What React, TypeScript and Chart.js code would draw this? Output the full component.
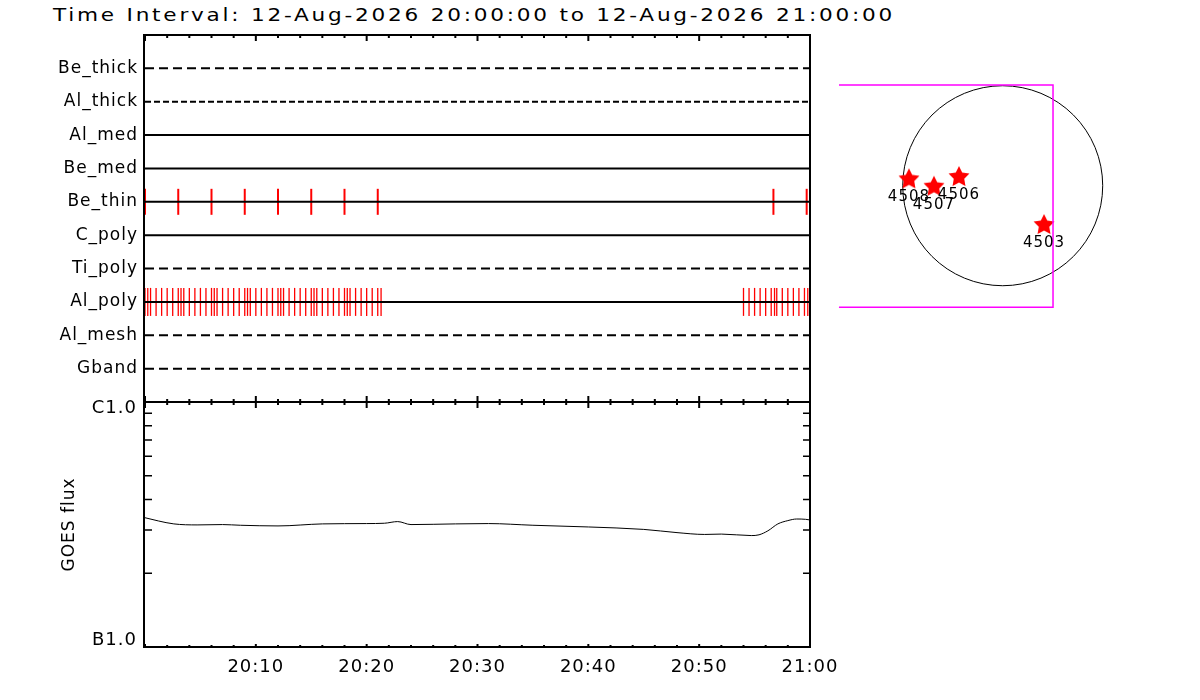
import { useEffect, useRef } from "react";
import { Chart, registerables } from "chart.js";

Chart.register(...registerables);

const FONT = "'DejaVu Sans', sans-serif";
const TITLE = "Time Interval: 12-Aug-2026 20:00:00 to 12-Aug-2026 21:00:00";

// filter channels, top to bottom
const CHANNELS = ["Be_thick", "Al_thick", "Al_med", "Be_med", "Be_thin", "C_poly", "Ti_poly", "Al_poly", "Al_mesh", "Gband"];
const CHANNEL_DASH: number[][] = [[9, 5], [6, 3], [], [], [], [], [9, 5], [], [9, 5], [9, 5]];

// exposure times, minutes after 20:00
const BE_THIN_MIN = [0, 3, 6, 9, 12, 15, 18, 21, 56.7, 59.7];
const AL_POLY_MIN = [
  0, 0.25, 0.5, 1, 1.5, 2, 2.5, 3, 3.25, 3.5, 4, 4.5, 5, 5.5, 6, 6.25, 6.5, 7, 7.5, 8, 8.5, 9, 9.25, 9.5,
  10, 10.5, 11, 11.5, 12, 12.25, 12.5, 13, 13.5, 14, 14.5, 15, 15.25, 15.5, 16, 16.5, 17, 17.5, 18, 18.25,
  18.5, 19, 19.5, 20, 20.5, 21, 21.3,
  54, 54.5, 55, 55.5, 56, 56.5, 56.8, 57, 57.5, 58, 58.5, 59, 59.5, 59.8,
];

const TIME_LABELS = ["", "20:10", "20:20", "20:30", "20:40", "20:50", "21:00"];

const GOES_MIN = [0, 1.2, 2.6, 4.7, 7, 8.6, 12, 16, 20, 21.6, 22.8, 24, 28, 31, 35, 40, 45, 48, 50.5, 52, 54.7, 55.4, 56.2, 57.1, 58, 58.8, 59.6, 60];
const GOES_FLUX = [
  3.37e-7, 3.27e-7, 3.18e-7, 3.15e-7, 3.16e-7, 3.14e-7, 3.12e-7, 3.18e-7, 3.19e-7, 3.2e-7, 3.25e-7, 3.16e-7,
  3.18e-7, 3.19e-7, 3.14e-7, 3.09e-7, 3.02e-7, 2.93e-7, 2.88e-7, 2.89e-7, 2.85e-7, 2.87e-7, 2.98e-7, 3.18e-7,
  3.28e-7, 3.33e-7, 3.32e-7, 3.3e-7,
];
const FLUX_TICKS = [1e-7, 1e-6];
const FLUX_LABELS = ["B1.0", "C1.0"];

// active regions, arcsec from disk centre
const AR_LABELS = ["4508", "4507", "4506", "4503"];
const AR_X = [-900, -660, -420, 397];
const AR_Y = [71, 0, 93, -368];
const FOV_X = [-1572, 483, 483, -1572];
const FOV_Y = [967, 967, -1167, -1167];
const SUN_R = 960;

const rowY = (name: string) => CHANNELS.length - CHANNELS.indexOf(name);

function makeStar(r: number) {
  const c = document.createElement("canvas");
  const s = Math.ceil(r * 2 + 2);
  c.width = s;
  c.height = s;
  const g = c.getContext("2d")!;
  g.fillStyle = "#ff0000";
  g.beginPath();
  for (let i = 0; i < 10; i++) {
    const rr = i % 2 === 0 ? r : r * 0.5;
    const a = -Math.PI / 2 + (i * Math.PI) / 5;
    const px = s / 2 + rr * Math.cos(a);
    const py = s / 2 + 1 + rr * Math.sin(a);
    if (i === 0) g.moveTo(px, py);
    else g.lineTo(px, py);
  }
  g.closePath();
  g.fill();
  return c;
}

const spacing = {
  id: "spacing",
  beforeDraw(chart: any) {
    chart.ctx.letterSpacing = "1px";
  },
};

function timeTicks(ctx: CanvasRenderingContext2D, x: any, y0: number, dir: number, major: number, minor: number) {
  for (let m = 0; m <= 60; m += 2) {
    const px = x.getPixelForValue(m);
    const len = m % 10 === 0 ? major : minor;
    ctx.beginPath();
    ctx.moveTo(px, y0);
    ctx.lineTo(px, y0 + dir * len);
    ctx.stroke();
  }
}

const frameTop = {
  id: "frameTop",
  afterDatasetsDraw(chart: any) {
    const { ctx, chartArea: a, scales } = chart;
    ctx.save();
    ctx.strokeStyle = "#000";
    ctx.lineWidth = 2;
    ctx.strokeRect(a.left - 1, a.top, a.right - a.left + 1, a.bottom - a.top);
    timeTicks(ctx, scales.x, a.top, 1, 6, 3);
    timeTicks(ctx, scales.x, a.bottom, -1, 6, 3);
    ctx.restore();
  },
};

const frameGoes = {
  id: "frameGoes",
  afterDatasetsDraw(chart: any) {
    const { ctx, chartArea: a, scales } = chart;
    ctx.save();
    ctx.strokeStyle = "#000";
    ctx.lineWidth = 2;
    ctx.strokeRect(a.left - 1, a.top, a.right - a.left + 1, a.bottom - a.top);
    timeTicks(ctx, scales.x, a.top, 1, 6, 3);
    timeTicks(ctx, scales.x, a.bottom, -1, 3, 2);
    ctx.lineWidth = 1.5;
    for (let k = 2; k <= 9; k++) {
      const py = scales.y.getPixelForValue(k * 1e-7);
      ctx.beginPath();
      ctx.moveTo(a.left, py);
      ctx.lineTo(a.left + 7, py);
      ctx.moveTo(a.right, py);
      ctx.lineTo(a.right - 7, py);
      ctx.stroke();
    }
    ctx.restore();
  },
};

const sunDisk = {
  id: "sunDisk",
  beforeDatasetsDraw(chart: any) {
    const { ctx, scales } = chart;
    const cx = scales.x.getPixelForValue(0);
    const cy = scales.y.getPixelForValue(0);
    const r = scales.x.getPixelForValue(SUN_R) - cx;
    ctx.save();
    ctx.strokeStyle = "#000";
    ctx.lineWidth = 1;
    ctx.beginPath();
    ctx.arc(cx, cy, r, 0, Math.PI * 2);
    ctx.stroke();
    ctx.restore();
  },
  afterDatasetsDraw(chart: any) {
    const { ctx } = chart;
    const meta = chart.getDatasetMeta(1);
    ctx.save();
    ctx.letterSpacing = "1px";
    ctx.font = `15px ${FONT}`;
    ctx.fillStyle = "#000";
    ctx.textAlign = "center";
    ctx.textBaseline = "middle";
    meta.data.forEach((pt: any, i: number) => ctx.fillText(AR_LABELS[i], pt.x, pt.y + 19));
    ctx.restore();
  },
};

export default function App() {
  const topRef = useRef<HTMLCanvasElement>(null);
  const goesRef = useRef<HTMLCanvasElement>(null);
  const sunRef = useRef<HTMLCanvasElement>(null);

  useEffect(() => {
    if (!topRef.current || !goesRef.current || !sunRef.current) return;

    const rows = CHANNELS.map((name, i) => ({
      label: name,
      data: [
        { x: 0, y: rowY(name) },
        { x: 60, y: rowY(name) },
      ],
      showLine: true,
      borderColor: "#000",
      borderWidth: 2,
      borderDash: CHANNEL_DASH[i],
      pointRadius: 0,
      order: 0,
    }));

    const topChart = new Chart(topRef.current, {
      type: "scatter",
      data: {
        datasets: [
          ...rows,
          {
            label: "Be_thin obs",
            data: BE_THIN_MIN.map((t) => ({ x: t, y: rowY("Be_thin") })),
            pointStyle: "line",
            pointRotation: 90,
            pointRadius: 13,
            pointBorderColor: "#ff0000",
            pointBorderWidth: 2,
            clip: false,
            order: 1,
          },
          {
            label: "Al_poly obs",
            data: AL_POLY_MIN.map((t) => ({ x: t, y: rowY("Al_poly") })),
            pointStyle: "line",
            pointRotation: 90,
            pointRadius: 14,
            pointBorderColor: "#ff0000",
            pointBorderWidth: 1.3,
            clip: false,
            order: 1,
          },
        ] as any,
      },
      options: {
        responsive: false,
        animation: false,
        events: [],
        layout: { autoPadding: false, padding: { top: 35, right: 40, bottom: 18, left: 0 } },
        plugins: { legend: { display: false }, tooltip: { enabled: false } },
        scales: {
          x: { type: "linear", min: 0, max: 60, display: false },
          y: {
            type: "linear",
            min: 0,
            max: CHANNELS.length + 1,
            afterBuildTicks: (s: any) => {
              s.ticks = CHANNELS.map((n) => ({ value: rowY(n) }));
            },
            afterFit: (s: any) => {
              s.width = 145;
            },
            grid: { display: false, drawTicks: false },
            border: { display: false },
            ticks: {
              padding: 7,
              color: "#000",
              font: { family: FONT, size: 17 },
              callback: (v: any) => CHANNELS[CHANNELS.length - Number(v)] ?? "",
            },
          },
        },
      },
      plugins: [spacing, frameTop],
    });

    const goesChart = new Chart(goesRef.current, {
      type: "scatter",
      data: {
        datasets: [
          {
            label: "GOES",
            data: GOES_MIN.map((t, i) => ({ x: t, y: GOES_FLUX[i] })),
            showLine: true,
            borderColor: "#000",
            borderWidth: 1,
            pointRadius: 0,
            cubicInterpolationMode: "monotone",
          },
        ] as any,
      },
      options: {
        responsive: false,
        animation: false,
        events: [],
        layout: { autoPadding: false, padding: { top: 22, right: 40, bottom: 13, left: 0 } },
        plugins: { legend: { display: false }, tooltip: { enabled: false } },
        scales: {
          x: {
            type: "linear",
            min: 0,
            max: 60,
            afterFit: (s: any) => {
              s.height = 40;
            },
            grid: { display: false, drawTicks: false },
            border: { display: false },
            ticks: {
              stepSize: 10,
              autoSkip: false,
              maxRotation: 0,
              padding: 10,
              color: "#000",
              font: { family: FONT, size: 18 },
              callback: (v: any) => TIME_LABELS[Math.round(Number(v) / 10)] ?? "",
            },
          },
          y: {
            type: "logarithmic",
            min: FLUX_TICKS[0],
            max: FLUX_TICKS[1],
            afterBuildTicks: (s: any) => {
              s.ticks = FLUX_TICKS.map((v) => ({ value: v }));
            },
            afterFit: (s: any) => {
              s.width = 145;
            },
            grid: { display: false, drawTicks: false },
            border: { display: false },
            title: {
              display: true,
              text: "GOES flux",
              color: "#000",
              font: { family: FONT, size: 17 },
              padding: { top: 59, bottom: 0 },
            },
            ticks: {
              autoSkip: false,
              padding: 8,
              color: "#000",
              font: { family: FONT, size: 18, lineHeight: "13px" },
              callback: (v: any) => {
                const i = FLUX_TICKS.indexOf(Number(v));
                if (i < 0) return "";
                return i === FLUX_TICKS.length - 1 ? ["", FLUX_LABELS[i]] : [FLUX_LABELS[i], ""];
              },
            },
          },
        },
      },
      plugins: [spacing, frameGoes],
    });

    const star = makeStar(11);
    const sunChart = new Chart(sunRef.current, {
      type: "scatter",
      data: {
        datasets: [
          {
            label: "FOV",
            data: FOV_X.map((x, i) => ({ x, y: FOV_Y[i] })),
            showLine: true,
            borderColor: "#ff00ff",
            borderWidth: 1.5,
            pointRadius: 0,
            clip: false,
          },
          {
            label: "AR",
            data: AR_X.map((x, i) => ({ x, y: AR_Y[i] })),
            pointStyle: star,
            pointRadius: 11,
            clip: false,
          },
        ] as any,
      },
      options: {
        responsive: false,
        animation: false,
        events: [],
        layout: { autoPadding: false, padding: 0 },
        plugins: { legend: { display: false }, tooltip: { enabled: false } },
        scales: {
          x: { type: "linear", min: -1658, max: 1126, display: false },
          y: { type: "linear", min: -1289, max: 1063, display: false },
        },
      },
      plugins: [sunDisk],
    });

    return () => {
      topChart.destroy();
      goesChart.destroy();
      sunChart.destroy();
    };
  }, []);

  return (
    <div style={{ position: "absolute", left: 0, top: 0, width: 1200, height: 700, background: "#fff", overflow: "hidden" }}>
      <div
        style={{
          position: "absolute",
          left: 53,
          top: 4,
          fontFamily: FONT,
          fontSize: 18,
          lineHeight: "22px",
          letterSpacing: "2.3px",
          whiteSpace: "nowrap",
          transform: "scaleX(1.2)",
          transformOrigin: "left top",
          color: "#000",
        }}
      >
        {TITLE}
      </div>
      <canvas ref={topRef} width={850} height={420} style={{ position: "absolute", left: 0, top: 0 }} />
      <canvas ref={goesRef} width={850} height={320} style={{ position: "absolute", left: 0, top: 380 }} />
      <canvas ref={sunRef} width={290} height={245} style={{ position: "absolute", left: 830, top: 75 }} />
    </div>
  );
}
